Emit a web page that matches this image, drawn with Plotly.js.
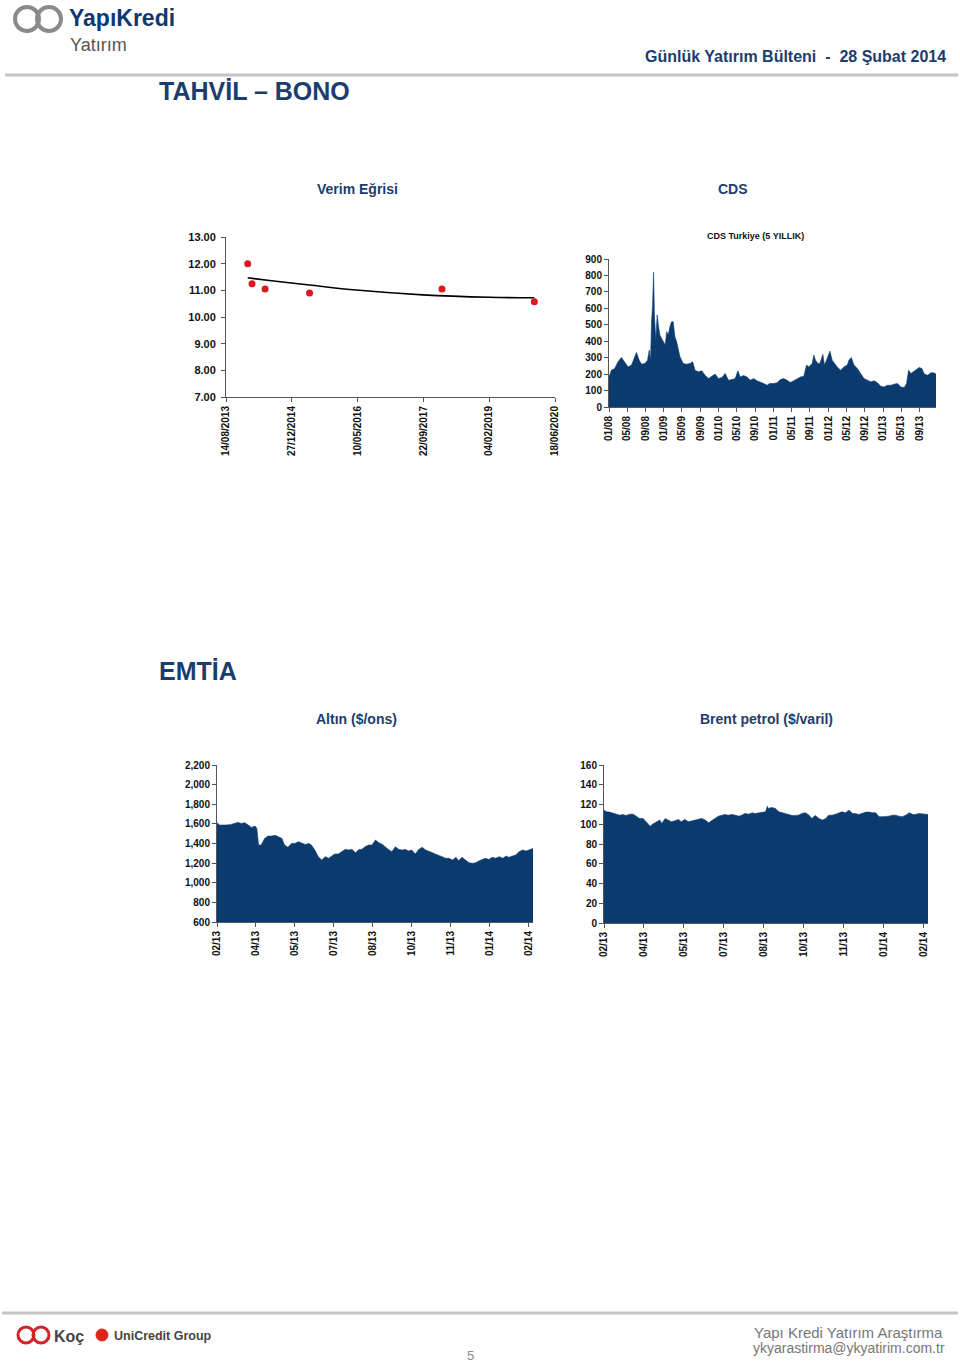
<!DOCTYPE html>
<html><head><meta charset="utf-8">
<script src="https://cdn.plot.ly/plotly-3.0.1.min.js"></script>
<style>html,body{margin:0;padding:0;background:#fff;}#chart{width:960px;height:1363px;}</style>
</head><body><div id="chart"></div>
<script>
// ---------- Verim Eğrisi (yield curve) ----------
const yieldDates = ['2014-01-26','2014-02-28','2014-06-07','2015-05-11','2018-02-10','2020-01-13'];
const yieldValues = [12.00, 11.25, 11.05, 10.90, 11.05, 10.57];
const trendDates = ['2014-01-26','2014-07-10','2015-05-11','2016-04-30','2017-09-18','2019-02-08','2020-01-13'];
const trendValues = [11.47, 11.37, 11.20, 11.01, 10.83, 10.74, 10.72];

// ---------- CDS Turkiye (5 YILLIK) ----------
const cdsDates = ['2008-01-01','2008-01-17','2008-02-08','2008-03-01','2008-03-24','2008-04-15','2008-05-07','2008-05-30','2008-06-21','2008-07-02','2008-07-20','2008-08-05','2008-08-27','2008-09-14','2008-09-25','2008-10-04','2008-10-10','2008-10-17','2008-10-24','2008-10-30','2008-11-08','2008-11-17','2008-11-26','2008-12-05','2008-12-16','2008-12-27',
'2009-01-10','2009-01-19','2009-01-30','2009-02-10','2009-02-21','2009-03-04','2009-03-15','2009-03-27','2009-04-07','2009-04-18','2009-04-29','2009-05-10','2009-06-02','2009-06-24','2009-07-12','2009-07-27','2009-08-19','2009-09-10','2009-10-02','2009-10-25','2009-11-16','2009-12-08','2009-12-30',
'2010-01-22','2010-02-13','2010-03-07','2010-03-30','2010-04-21','2010-05-09','2010-05-24','2010-06-16','2010-07-08','2010-07-30','2010-08-22','2010-09-13','2010-10-05','2010-10-28','2010-11-19','2010-12-07',
'2011-01-02','2011-01-25','2011-02-16','2011-03-10','2011-04-01','2011-04-24','2011-05-16','2011-06-07','2011-06-30','2011-07-22','2011-08-09','2011-08-24','2011-09-16','2011-09-27','2011-10-08','2011-10-24','2011-11-06','2011-11-26','2011-12-07','2011-12-25',
'2012-01-12','2012-01-27','2012-02-12','2012-03-01','2012-03-23','2012-04-15','2012-05-07','2012-05-18','2012-06-03','2012-06-20','2012-07-13','2012-08-04','2012-08-26','2012-09-18','2012-10-10','2012-11-01','2012-11-24','2012-12-16',
'2013-01-07','2013-01-29','2013-02-21','2013-03-15','2013-04-06','2013-04-29','2013-05-21','2013-06-06','2013-06-19','2013-07-05','2013-07-22','2013-08-07','2013-08-29','2013-09-16','2013-10-02','2013-10-24','2013-11-15','2013-12-03','2013-12-19'];
const cdsValues = [183,224,234,275,301,275,244,255,305,332,285,260,265,285,346,285,509,611,819,550,407,560,489,438,418,397,
377,458,438,489,519,519,428,397,346,305,285,265,260,265,275,224,214,220,193,173,187,200,173,
179,204,163,167,173,220,183,191,183,163,173,159,153,143,132,143,
143,147,167,173,163,149,159,173,183,187,255,244,265,316,285,265,265,320,255,295,
340,285,265,244,224,244,255,285,301,255,234,204,173,163,153,159,147,126,
122,132,132,139,143,122,118,143,224,204,214,228,240,234,200,193,208,208,200];

// ---------- Altın ($/ons) ----------
const goldDates = ['2013-02-27','2013-03-02','2013-03-08','2013-03-14','2013-03-19','2013-03-23','2013-03-27','2013-03-31','2013-04-04','2013-04-08','2013-04-12','2013-04-14',
'2013-04-16','2013-04-19','2013-04-23','2013-04-27','2013-05-01','2013-05-05','2013-05-09','2013-05-13','2013-05-16','2013-05-20',
'2013-05-24','2013-05-28','2013-06-01','2013-06-05','2013-06-09','2013-06-13','2013-06-16','2013-06-20','2013-06-24','2013-06-28',
'2013-07-02','2013-07-06','2013-07-10','2013-07-13','2013-07-17','2013-07-21','2013-07-25','2013-07-29','2013-08-02','2013-08-06',
'2013-08-10','2013-08-13','2013-08-17','2013-08-21','2013-08-25','2013-08-29','2013-09-02','2013-09-06','2013-09-09','2013-09-13',
'2013-09-17','2013-09-21','2013-09-25','2013-09-29','2013-10-03','2013-10-06','2013-10-10','2013-10-14','2013-10-18','2013-10-22',
'2013-10-26','2013-10-30','2013-11-03','2013-11-06','2013-11-10','2013-11-14','2013-11-18','2013-11-22','2013-11-26','2013-11-30',
'2013-12-03','2013-12-07','2013-12-11','2013-12-15','2013-12-19','2013-12-23','2013-12-27','2013-12-31','2014-01-03','2014-01-07',
'2014-01-11','2014-01-15','2014-01-19','2014-01-23','2014-01-27','2014-01-30','2014-02-03','2014-02-07','2014-02-11','2014-02-15',
'2014-02-19','2014-02-23','2014-02-27'];
const goldValues = [1612,1588,1588,1592,1605,1615,1605,1612,1588,1564,1578,1554,
1384,1384,1452,1476,1476,1483,1469,1452,1384,1361,
1401,1401,1418,1401,1391,1401,1384,1334,1266,1232,
1266,1249,1272,1293,1293,1317,1340,1334,1340,1306,
1340,1340,1367,1384,1384,1435,1408,1391,1367,1340,
1317,1367,1340,1334,1340,1323,1334,1293,1340,1361,
1334,1323,1306,1293,1283,1266,1249,1249,1232,1259,
1225,1259,1232,1205,1198,1205,1225,1238,1249,1238,
1259,1249,1266,1249,1272,1259,1272,1283,1317,1334,
1323,1334,1350];

// ---------- Brent petrol ($/varil) ----------
const brentDates = ['2013-02-27','2013-03-02','2013-03-05','2013-03-09','2013-03-13','2013-03-17','2013-03-20','2013-03-24','2013-03-28',
'2013-04-01','2013-04-05','2013-04-08','2013-04-12','2013-04-16','2013-04-20','2013-04-23','2013-04-27',
'2013-05-01','2013-05-03','2013-05-07','2013-05-10','2013-05-14','2013-05-18','2013-05-22','2013-05-25','2013-05-29',
'2013-06-02','2013-06-06','2013-06-10','2013-06-13','2013-06-17','2013-06-21','2013-06-25','2013-06-28',
'2013-07-02','2013-07-06','2013-07-10','2013-07-13','2013-07-17','2013-07-21','2013-07-25','2013-07-29',
'2013-08-01','2013-08-05','2013-08-09','2013-08-13','2013-08-16','2013-08-20','2013-08-24','2013-08-28','2013-08-30','2013-08-31',
'2013-09-04','2013-09-08','2013-09-12','2013-09-16','2013-09-19','2013-09-23','2013-09-27',
'2013-10-01','2013-10-04','2013-10-08','2013-10-12','2013-10-16','2013-10-19','2013-10-23','2013-10-27','2013-10-31',
'2013-11-04','2013-11-07','2013-11-11','2013-11-15','2013-11-19','2013-11-22','2013-11-26','2013-11-30',
'2013-12-04','2013-12-07','2013-12-11','2013-12-15','2013-12-19','2013-12-23','2013-12-26','2013-12-30',
'2014-01-03','2014-01-07','2014-01-10','2014-01-14','2014-01-18','2014-01-22','2014-01-25','2014-01-29',
'2014-02-02','2014-02-06','2014-02-10','2014-02-13','2014-02-17','2014-02-21','2014-02-25','2014-02-27'];
const brentValues = [114.3,112.6,112.3,111.6,110.2,109.2,109.9,108.9,110.2,
110.2,108.2,105.9,105.9,102.5,98.1,100.2,102.5,
104.2,100.8,105.9,104.2,102.5,103.5,104.9,102.5,104.9,
102.5,103.5,104.2,104.9,105.9,104.2,101.5,103.5,
105.9,108.2,109.2,109.9,109.2,109.9,109.2,108.2,
109.2,110.9,110.2,111.6,110.9,111.6,111.6,112.6,118.3,116.0,
117.0,116.0,112.6,111.6,110.2,109.9,108.9,
108.9,109.2,110.9,111.6,109.2,105.9,108.9,105.9,104.2,
105.9,109.2,109.2,110.2,111.6,112.6,111.6,114.3,
110.9,110.9,109.9,110.9,112.3,112.3,111.6,111.6,
107.6,107.6,107.6,108.2,109.2,109.2,108.2,107.6,
109.2,111.6,109.9,109.9,110.9,110.2,109.9,109.9];

// ---------- page texts ----------
const headerText = 'Günlük Yatırım Bülteni  -  28 Şubat 2014';
const section1 = 'TAHVİL – BONO';
const section2 = 'EMTİA';
const titles = ['Verim Eğrisi','CDS','Altın ($/ons)','Brent petrol ($/varil)'];
const cdsTitle = 'CDS Turkiye (5 YILLIK)';
const footerLines = ['Yapı Kredi Yatırım Araştırma','ykyarastirma@ykyatirim.com.tr'];
const pageNumber = '5';

// ---------- layout helpers ----------
const W = 960, H = 1363;
const X = p => p / W, Y = p => 1 - p / H;
const NAVY = '#0b3a6e';
const HEAD = '#1b3d6e';
const FONT = '"Liberation Sans", Arial, sans-serif';

function ax(extra) {
  return Object.assign({
    showgrid: false, zeroline: false, showline: true, linecolor: '#555', linewidth: 1,
    ticks: 'outside', ticklen: 4, tickcolor: '#555', fixedrange: true,
    tickfont: {family: FONT, size: 10, color: '#111', weight: 'bold'}
  }, extra);
}
const DAY = 86400000;

const traces = [
  {x: trendDates, y: trendValues, mode: 'lines', line: {color: '#000', width: 1.6, shape: 'spline'}, xaxis: 'x', yaxis: 'y', hoverinfo: 'skip'},
  {x: yieldDates, y: yieldValues, mode: 'markers', marker: {color: '#e0161e', size: 7}, xaxis: 'x', yaxis: 'y'},
  {x: cdsDates, y: cdsValues, mode: 'lines', fill: 'tozeroy', fillcolor: NAVY, line: {color: NAVY, width: 0.6}, xaxis: 'x2', yaxis: 'y2'},
  {x: goldDates, y: goldValues, mode: 'lines', fill: 'tozeroy', fillcolor: NAVY, line: {color: NAVY, width: 0.6}, xaxis: 'x3', yaxis: 'y3'},
  {x: brentDates, y: brentValues, mode: 'lines', fill: 'tozeroy', fillcolor: NAVY, line: {color: NAVY, width: 0.6}, xaxis: 'x4', yaxis: 'y4'}
];

function ann(text, x, y, o) {
  return Object.assign({text: text, x: x, y: y, xref: 'paper', yref: 'paper', showarrow: false,
    xanchor: 'center', yanchor: 'middle', font: {family: FONT, size: 14, color: HEAD, weight: 'bold'}}, o || {});
}

const layout = {
  width: W, height: H, margin: {l: 0, r: 0, t: 0, b: 0},
  paper_bgcolor: '#fff', plot_bgcolor: 'rgba(0,0,0,0)', showlegend: false,
  xaxis: ax({domain: [X(226), X(555)], anchor: 'y', type: 'date', range: ['2013-08-14', '2020-06-18'],
    tick0: '2013-08-14', dtick: 500 * DAY, tickformat: '%d/%m/%Y', tickangle: -90}),
  yaxis: ax({domain: [Y(397), Y(237)], anchor: 'x', range: [7, 13], dtick: 1, tickformat: '.2f', ticklabelstandoff: 3,
    tickfont: {family: FONT, size: 11, color: '#111', weight: 'bold'}}),
  xaxis2: ax({domain: [X(609), X(936)], anchor: 'y2', type: 'date', range: ['2008-01-01', '2013-12-19'],
    tick0: '2008-01-01', dtick: 'M4', tickformat: '%m/%y', tickangle: -90}),
  yaxis2: ax({domain: [Y(407), Y(259)], anchor: 'x2', range: [0, 900], dtick: 100}),
  xaxis3: ax({domain: [X(217), X(533)], anchor: 'y3', type: 'date', range: ['2013-02-27', '2014-02-27'],
    tick0: '2013-02-27', dtick: 45 * DAY, tickformat: '%m/%y', tickangle: -90}),
  yaxis3: ax({domain: [Y(922), Y(765)], anchor: 'x3', range: [600, 2200], dtick: 200, tickformat: ',d'}),
  xaxis4: ax({domain: [X(604), X(928)], anchor: 'y4', type: 'date', range: ['2013-02-27', '2014-02-27'],
    tick0: '2013-02-27', dtick: 45 * DAY, tickformat: '%m/%y', tickangle: -90}),
  yaxis4: ax({domain: [Y(923), Y(765)], anchor: 'x4', range: [0, 160], dtick: 20}),
  shapes: [
    {type: 'line', xref: 'paper', yref: 'paper', x0: X(5), x1: X(958), y0: Y(75), y1: Y(75), line: {color: '#c4c4c4', width: 3}},
    {type: 'line', xref: 'paper', yref: 'paper', x0: X(2), x1: X(958), y0: Y(1313), y1: Y(1313), line: {color: '#c4c4c4', width: 3}},
    // YapıKredi swirl
    {type: 'circle', xref: 'paper', yref: 'paper', x0: X(15), x1: X(39), y0: Y(31), y1: Y(7), line: {color: '#8a8a8a', width: 4}},
    {type: 'circle', xref: 'paper', yref: 'paper', x0: X(37), x1: X(61), y0: Y(31), y1: Y(7), line: {color: '#8a8a8a', width: 4}},
    // Koç swirl
    {type: 'circle', xref: 'paper', yref: 'paper', x0: X(18), x1: X(34), y0: Y(1343), y1: Y(1327), line: {color: '#d2232a', width: 3}},
    {type: 'circle', xref: 'paper', yref: 'paper', x0: X(33), x1: X(49), y0: Y(1343), y1: Y(1327), line: {color: '#d2232a', width: 3}},
    // UniCredit mark
    {type: 'circle', xref: 'paper', yref: 'paper', x0: X(96), x1: X(108), y0: Y(1341), y1: Y(1329), fillcolor: '#e2231a', line: {color: '#e2231a', width: 1}}
  ],
  annotations: [
    ann('YapıKredi', X(67), Y(18), {xanchor: 'left', font: {family: FONT, size: 23, color: '#0d3872', weight: 'bold'}}),
    ann('Yatırım', X(68), Y(45), {xanchor: 'left', font: {family: FONT, size: 18, color: '#555', weight: 'normal'}}),
    ann(headerText, X(948), Y(57), {xanchor: 'right', font: {family: FONT, size: 16, color: HEAD, weight: 'bold'}}),
    ann(section1, X(157), Y(91), {xanchor: 'left', font: {family: FONT, size: 25, color: HEAD, weight: 'bold'}}),
    ann(titles[0], X(357), Y(189)),
    ann(titles[1], X(733), Y(189)),
    ann(cdsTitle, X(755), Y(236), {font: {family: FONT, size: 9, color: '#111', weight: 'bold'}}),
    ann(section2, X(157), Y(671), {xanchor: 'left', font: {family: FONT, size: 25, color: HEAD, weight: 'bold'}}),
    ann(titles[2], X(356), Y(719)),
    ann(titles[3], X(766), Y(719)),
    ann('Koç', X(52), Y(1336), {xanchor: 'left', font: {family: FONT, size: 16, color: '#444', weight: 'bold'}}),
    ann('UniCredit Group', X(112), Y(1336), {xanchor: 'left', font: {family: FONT, size: 12.5, color: '#444', weight: 'bold'}}),
    ann(pageNumber, X(470), Y(1355), {font: {family: FONT, size: 13, color: '#888', weight: 'normal'}}),
    ann(footerLines[0], X(945), Y(1332), {xanchor: 'right', font: {family: FONT, size: 15, color: '#777', weight: 'normal'}}),
    ann(footerLines[1], X(947), Y(1348), {xanchor: 'right', font: {family: FONT, size: 14, color: '#777', weight: 'normal'}})
  ]
};

Plotly.newPlot('chart', traces, layout, {staticPlot: true, displayModeBar: false});
</script>
</body></html>
